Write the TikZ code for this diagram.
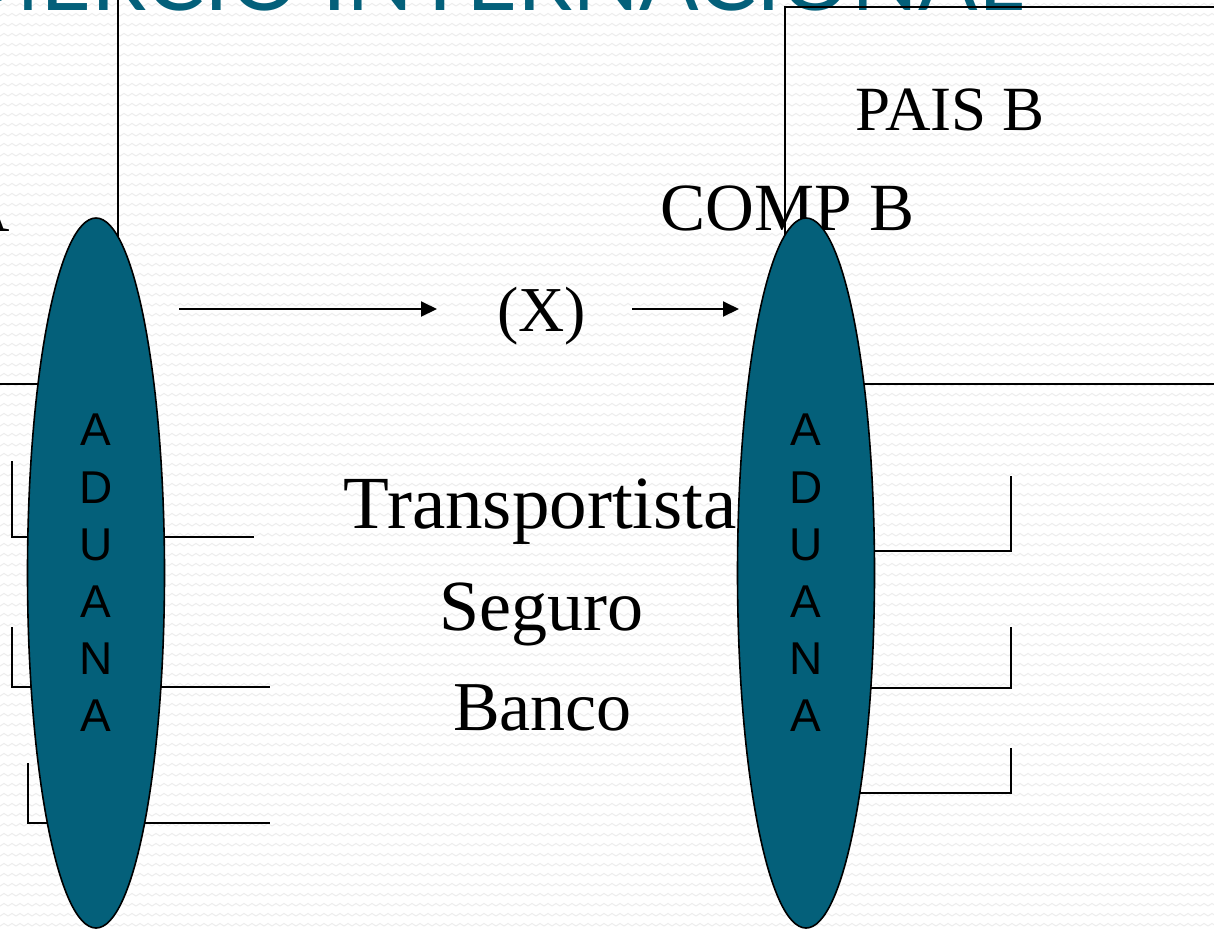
\documentclass[tikz,border=0pt]{standalone}
\usepackage{fontspec}
\setmainfont{Liberation Serif}
\newfontfamily\lettersans{Liberation Sans}
\newfontfamily\titlesans{Lato}
\usetikzlibrary{shapes.geometric,arrows.meta,patterns}
\definecolor{civicteal}{RGB}{4,96,122}

% faint wavy texture of the slide background
\pgfdeclarepatternformonly{bgwave}{\pgfqpoint{-1pt}{-1pt}}{\pgfqpoint{9pt}{11pt}}{\pgfqpoint{8pt}{10pt}}{%
  \pgfsetlinewidth{1pt}%
  \pgfpathmoveto{\pgfqpoint{0pt}{4pt}}%
  \pgfpathlineto{\pgfqpoint{4pt}{6.5pt}}%
  \pgfpathlineto{\pgfqpoint{8pt}{4pt}}%
  \pgfusepath{stroke}}

\tikzset{
  frame/.style={draw=black, line width=1.5pt},
  bracket/.style={draw=black, line width=1.6pt},
  customs/.style={ellipse, draw=black, line width=1.6pt, fill=civicteal,
    minimum width=137pt, minimum height=710pt, inner sep=0pt},
  customsword/.style={inner sep=0pt, align=center, text=black,
    font=\lettersans\fontsize{46}{57.2}\selectfont},
  label/.style={anchor=base, inner sep=0pt, text=black},
  flow/.style={line width=2pt, -{Triangle[length=16pt,width=15pt]}},
}

\begin{document}
\begin{tikzpicture}[x=1pt,y=-1pt]
\useasboundingbox (0,0) rectangle (1214,930);
\clip (0,0) rectangle (1214,930);
\fill[white] (0,0) rectangle (1214,930);
\fill[pattern=bgwave, pattern color=black!7] (0,0) rectangle (1214,930);

% slide title, running off the top edge
\node[anchor=base east, inner sep=0pt, text=civicteal,
  font=\titlesans\fontsize{88}{98}\selectfont] (title) at (1023,10.5) {COMERCIO INTERNACIONAL};

% country frames
\draw[frame] (-20,-20) rectangle (118,384);
\draw[frame] (785,7) rectangle (1240,384);

% service brackets, country A side
\draw[bracket] (12,461) -- (12,537) -- (254,537);
\draw[bracket] (12,627) -- (12,687) -- (270,687);
\draw[bracket] (28,763) -- (28,823) -- (270,823);
% service brackets, country B side
\draw[bracket] (806,551) -- (1011,551) -- (1011,476);
\draw[bracket] (806,688) -- (1011,688) -- (1011,627);
\draw[bracket] (806,793) -- (1011,793) -- (1011,748);

% company labels
\node[label, anchor=base east, font=\fontsize{67}{80}\selectfont] (compA) at (10,231) {COMP A};
\node[label, font=\fontsize{63}{76}\selectfont] (paisB) at (950,130) {PAIS B};
\node[label, font=\fontsize{67.5}{80}\selectfont] (compB) at (787.5,230) {COMP B};

% customs posts
\node[customs] (aduanaA) at (96,573) {};
\node[customs] (aduanaB) at (806,573) {};
\node[customsword] (wordA) at (aduanaA.center) {A\\D\\U\\A\\N\\A};
\node[customsword] (wordB) at (aduanaB.center) {A\\D\\U\\A\\N\\A};

% goods and intermediaries
\node[label, font=\fontsize{64}{76}\selectfont] (goods) at (541.5,331) {(X)};
\node[label, font=\fontsize{75}{90}\selectfont] (carrier) at (540.5,528) {Transportista};
\node[label, font=\fontsize{72}{86}\selectfont] (insurer) at (541.5,630) {Seguro};
\node[label, font=\fontsize{70}{84}\selectfont] (bank) at (542.5,730) {Banco};

% flow of goods
\coordinate (f1s) at (179,309);
\coordinate (f1e) at (437,309);
\coordinate (f2s) at (632,309);
\coordinate (f2e) at (739,309);
\draw[flow] (f1s) -- (f1e);
\draw[flow] (f2s) -- (f2e);
\end{tikzpicture}
\end{document}
